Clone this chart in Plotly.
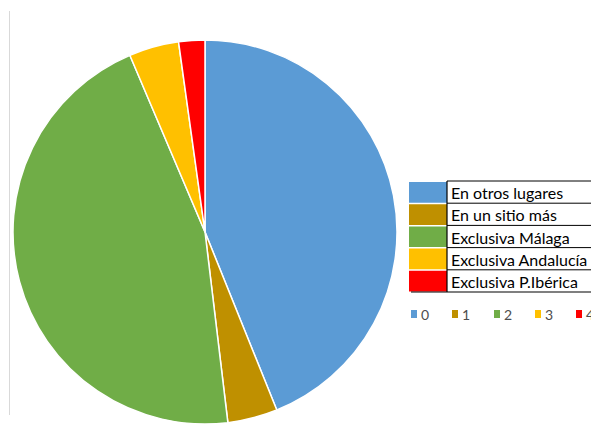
import plotly.graph_objects as go

# Pie data: category codes and their shares (%)
categories = ["0", "1", "2", "3", "4"]
shares = [43.9, 4.2, 45.5, 4.2, 2.2]
colors = ["#5B9BD5", "#BF9000", "#70AD47", "#FFC000", "#FF0000"]

# Descriptive table beside the pie
table_labels = [
    "En otros lugares",
    "En un sitio más",
    "Exclusiva Málaga",
    "Exclusiva Andalucía",
    "Exclusiva P.Ibérica",
]

W, H = 591, 425
cx, cy, r = 205, 232, 192

fig = go.Figure()

fig.add_trace(go.Pie(
    labels=categories,
    values=shares,
    sort=False,
    direction="clockwise",
    rotation=0,
    marker=dict(colors=colors, line=dict(color="white", width=1.5)),
    textinfo="none",
    hoverinfo="label+percent",
    showlegend=False,
    domain=dict(x=[(cx - r) / W, (cx + r) / W],
                y=[(H - cy - r) / H, (H - cy + r) / H]),
))

shapes = []
annotations = []

# thin grey frame line at the left
shapes.append(dict(type="line", xref="x", yref="y", x0=9.5, x1=9.5, y0=11, y1=415,
                   line=dict(color="#D9D9D9", width=1)))

# table rows: swatch + label, separated by black rules
top, row_h = 181, 22.2
sw_x0, sw_x1 = 409, 447
for i, (lab, col) in enumerate(zip(table_labels, colors)):
    y0 = top + i * row_h
    y1 = y0 + row_h
    shapes.append(dict(type="rect", xref="x", yref="y", x0=sw_x0, x1=sw_x1,
                       y0=y0 + 1, y1=y1 - 0.5, fillcolor=col, line=dict(width=0)))
    annotations.append(dict(x=449, y=(y0 + y1) / 2 + 0.5, xref="x", yref="y",
                            text=lab, showarrow=False, xanchor="left", yanchor="middle",
                            font=dict(family="Lato", size=16, color="#000000")))
    shapes.append(dict(type="line", xref="x", yref="y", x0=sw_x1, x1=W, y0=y0, y1=y0,
                       line=dict(color="#000000", width=1)))
bottom = top + len(table_labels) * row_h
shapes.append(dict(type="line", xref="x", yref="y", x0=411, x1=W, y0=bottom, y1=bottom,
                   line=dict(color="#000000", width=1.2)))
shapes.append(dict(type="line", xref="x", yref="y", x0=sw_x1, x1=sw_x1, y0=top, y1=bottom,
                   line=dict(color="#000000", width=1.2)))

# compact legend row for the category codes
leg_x = [411, 452, 494, 535, 576]
leg_y = 314
for x, lab, col in zip(leg_x, categories, colors):
    shapes.append(dict(type="rect", xref="x", yref="y", x0=x, x1=x + 6,
                       y0=leg_y - 4, y1=leg_y + 4, fillcolor=col, line=dict(width=0)))
    annotations.append(dict(x=x + 8, y=leg_y, xref="x", yref="y", text=lab,
                            showarrow=False, xanchor="left", yanchor="middle",
                            font=dict(family="Lato", size=14, color="#4D4D4D")))

fig.update_layout(
    width=W, height=H,
    margin=dict(l=0, r=0, t=0, b=0),
    paper_bgcolor="white",
    plot_bgcolor="rgba(0,0,0,0)",
    xaxis=dict(range=[0, W], visible=False, fixedrange=True),
    yaxis=dict(range=[H, 0], visible=False, fixedrange=True),
    shapes=shapes,
    annotations=annotations,
)

fig.write_html("out.html")
